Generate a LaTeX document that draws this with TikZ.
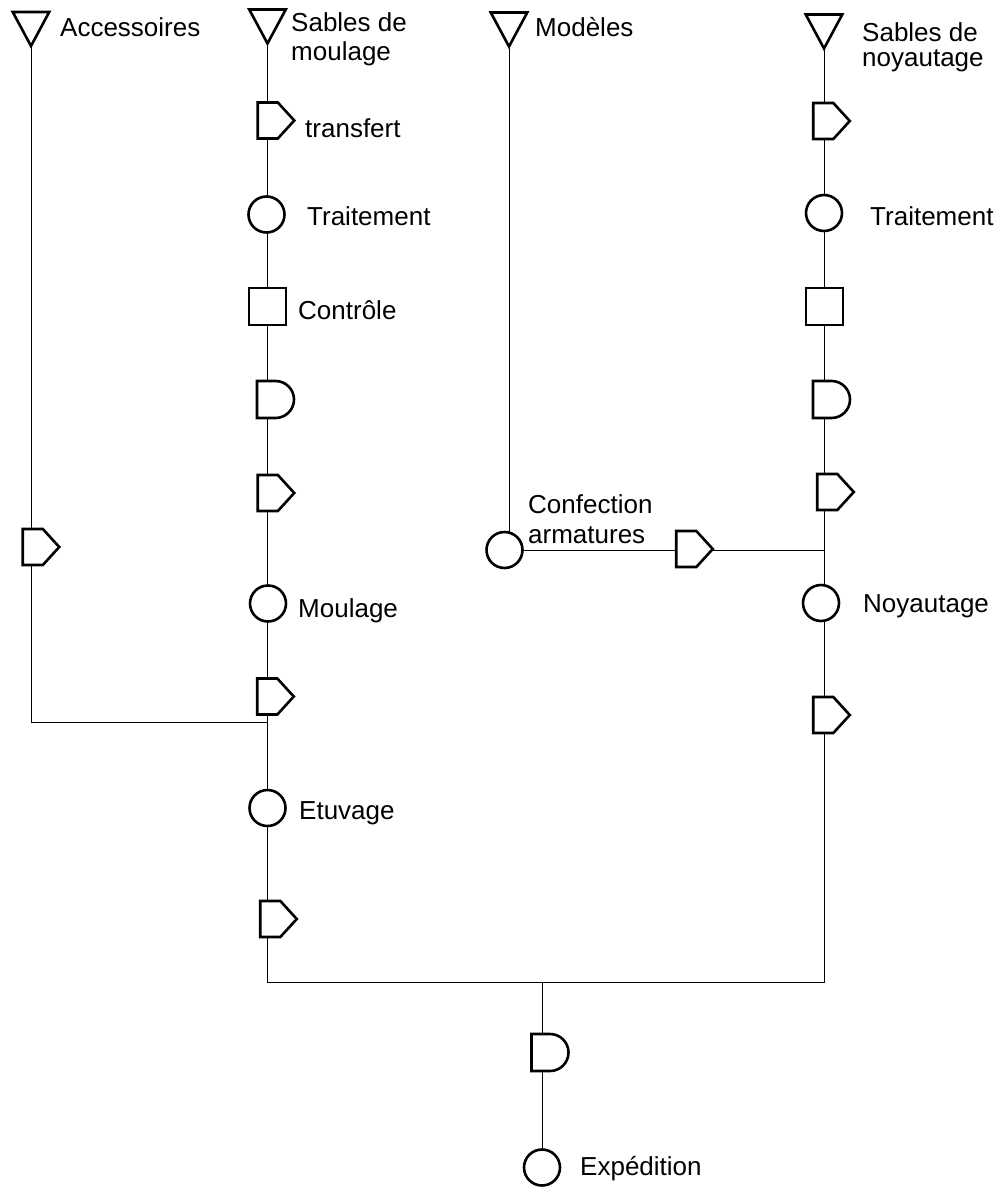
\documentclass[tikz,border=0pt]{standalone}
\usepackage{fontspec}
\setmainfont{Liberation Sans}
\usetikzlibrary{backgrounds}

\makeatletter
% Reads the inner box of the node into \sxa,\sya (south west) and \sxb,\syb (north east)
\def\symbox{%
  \southwest \pgf@xa=\pgf@x \pgf@ya=\pgf@y
  \northeast \pgf@xb=\pgf@x \pgf@yb=\pgf@y
  \edef\sxa{\the\pgf@xa}\edef\sya{\the\pgf@ya}%
  \edef\sxb{\the\pgf@xb}\edef\syb{\the\pgf@yb}%
}
\def\symanchors{%
  \inheritsavedanchors[from=rectangle]%
  \inheritanchorborder[from=rectangle]%
  \inheritanchor[from=rectangle]{center}%
  \inheritanchor[from=rectangle]{north}%
  \inheritanchor[from=rectangle]{south}%
  \inheritanchor[from=rectangle]{east}%
  \inheritanchor[from=rectangle]{west}%
  \inheritanchor[from=rectangle]{north east}%
  \inheritanchor[from=rectangle]{north west}%
  \inheritanchor[from=rectangle]{south east}%
  \inheritanchor[from=rectangle]{south west}%
}
% transport: box with a pointed right end
\pgfdeclareshape{transportsym}{%
  \symanchors
  \backgroundpath{%
    \symbox
    \pgf@xc=\pgf@xb \advance\pgf@xc by -\pgf@xa
    \pgf@xc=-0.45\pgf@xc \advance\pgf@xc by \pgf@xb
    \pgf@yc=0.5\pgf@ya \advance\pgf@yc by 0.5\pgf@yb
    \edef\sxc{\the\pgf@xc}\edef\syc{\the\pgf@yc}%
    \pgfpathmoveto{\pgfqpoint{\sxa}{\sya}}%
    \pgfpathlineto{\pgfqpoint{\sxc}{\sya}}%
    \pgfpathlineto{\pgfqpoint{\sxb}{\syc}}%
    \pgfpathlineto{\pgfqpoint{\sxc}{\syb}}%
    \pgfpathlineto{\pgfqpoint{\sxa}{\syb}}%
    \pgfpathclose
  }%
}
% waiting: box with a half-round right end
\pgfdeclareshape{delaysym}{%
  \symanchors
  \backgroundpath{%
    \symbox
    \pgf@yc=\pgf@yb \advance\pgf@yc by -\pgf@ya
    \pgf@yc=0.5\pgf@yc
    \pgf@xc=\pgf@xb \advance\pgf@xc by -\pgf@yc
    \edef\sxc{\the\pgf@xc}\edef\sr{\the\pgf@yc}%
    \pgfpathmoveto{\pgfqpoint{\sxa}{\sya}}%
    \pgfpathlineto{\pgfqpoint{\sxc}{\sya}}%
    \pgfpatharc{-90}{90}{\sr}%
    \pgfpathlineto{\pgfqpoint{\sxa}{\syb}}%
    \pgfpathclose
  }%
}
% storage / supply: triangle pointing down
\pgfdeclareshape{sourcesym}{%
  \symanchors
  \backgroundpath{%
    \symbox
    \pgf@xc=0.5\pgf@xa \advance\pgf@xc by 0.5\pgf@xb
    \edef\sxc{\the\pgf@xc}%
    \pgfpathmoveto{\pgfqpoint{\sxa}{\syb}}%
    \pgfpathlineto{\pgfqpoint{\sxb}{\syb}}%
    \pgfpathlineto{\pgfqpoint{\sxc}{\sya}}%
    \pgfpathclose
  }%
}
\makeatother

\tikzset{
  sym/.style={draw=black, line width=2.6pt, fill=white, inner sep=0pt, outer sep=0pt},
  opnode/.style={sym, circle, minimum size=36pt},
  ctrlnode/.style={sym, rectangle, minimum size=37pt},
  movenode/.style={sym, transportsym, minimum width=36.5pt, minimum height=36pt},
  waitnode/.style={sym, delaysym, minimum width=37pt, minimum height=37pt},
  srcnode/.style={sym, sourcesym, minimum width=36.5pt, minimum height=34pt},
  flow/.style={draw=black, line width=1pt},
  lbl/.style={anchor=base west, inner sep=0pt, align=left,
    font=\fontsize{26pt}{29.5pt}\selectfont},
}

\begin{document}
\begin{tikzpicture}[x=1pt,y=-1pt]
\useasboundingbox (0,0) rectangle (998,1188);

% supplies
\node[srcnode] (srcA) at (31,29) {};
\node[srcnode] (srcB) at (267.5,26.5) {};
\node[srcnode] (srcC) at (509,29.5) {};
\node[srcnode] (srcD) at (824,31.5) {};

% accessories branch
\node[movenode] (mA) at (41,547) {};

% moulding sand line
\node[movenode] (mB1) at (276,120.5) {};
\node[opnode]   (oB1) at (266.5,214.5) {};
\node[ctrlnode] (cB)  at (267.5,306.5) {};
\node[waitnode] (wB)  at (275.5,399.5) {};
\node[movenode] (mB2) at (276,493) {};
\node[opnode]   (oB2) at (268,603.5) {};
\node[movenode] (mB3) at (275.5,696.5) {};
\node[opnode]   (oB3) at (267.5,808) {};
\node[movenode] (mB4) at (278.5,919) {};

% patterns / core frames
\node[opnode]   (oC) at (504.5,550) {};
\node[movenode] (mC) at (694.5,549) {};

% core sand line
\node[movenode] (mD1) at (831.5,121) {};
\node[opnode]   (oD1) at (824,213) {};
\node[ctrlnode] (cD)  at (824.5,306.5) {};
\node[waitnode] (wD)  at (831.5,399.5) {};
\node[movenode] (mD2) at (835.5,492) {};
\node[opnode]   (oD2) at (821,603) {};
\node[movenode] (mD3) at (831.5,715) {};

% shipping
\node[waitnode] (wE) at (550,1052.5) {};
\node[opnode]   (oE) at (542,1167.5) {};

% junctions
\coordinate (jA) at (267.5,722);
\coordinate (jBot) at (824,982);
\coordinate (jE) at (542,982);

\begin{pgfonlayer}{background}
  \draw[flow] (srcA.south) |- (jA);
  \draw[flow] (srcB.south) |- (jBot) -- (srcD.south);
  \draw[flow] (srcC.south) -- (srcC.south |- oC);
  \draw[flow] (oC) -- (oC -| srcD);
  \draw[flow] (jE) -- (oE);
\end{pgfonlayer}

% labels (multi-line labels are placed by the baseline of their last line)
\node[lbl] (tA)  at (60,37)    {Accessoires};
\node[lbl] (tB)  at (291,61)   {Sables de\\moulage};
\node[lbl] (tB1) at (305,137)  {transfert};
\node[lbl] (tB2) at (307,225)  {Traitement};
\node[lbl] (tB3) at (298,319)  {Contrôle};
\node[lbl] (tB4) at (298,617)  {Moulage};
\node[lbl] (tB5) at (299,819)  {Etuvage};
\node[lbl] (tC)  at (535,37)   {Modèles};
\node[lbl] (tC1) at (528,543)  {Confection\\armatures};
\node[lbl] (tD)  at (862,67)   {Sables de\\[-4pt]noyautage};
\node[lbl] (tD1) at (870,225)  {Traitement};
\node[lbl] (tD2) at (863,612)  {Noyautage};
\node[lbl] (tE)  at (580,1175) {Expédition};
\end{tikzpicture}
\end{document}
